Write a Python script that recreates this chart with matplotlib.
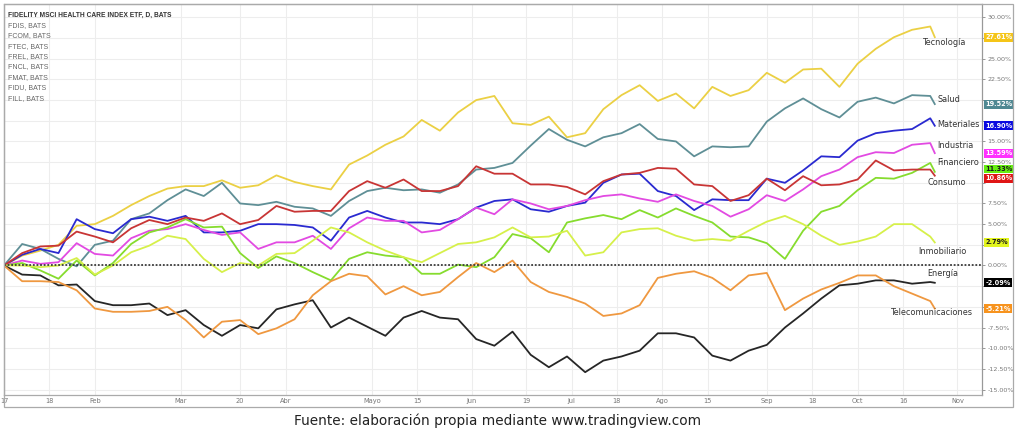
import matplotlib
matplotlib.use("Agg")
import matplotlib.pyplot as plt
import matplotlib.transforms as mtransforms
from matplotlib.patches import Rectangle
import numpy as np
import pandas as pd

# ---------------- data ----------------
holidays = ['2017-01-16', '2017-02-20', '2017-04-14', '2017-05-29',
            '2017-07-04', '2017-09-04', '2017-11-23']
trading_days = pd.bdate_range('2017-01-03', '2017-11-10', freq='C', holidays=holidays)

# sampled trading-day positions (every 4 sessions, last = Oct 25 2017)
sample_pos = list(range(0, 205, 4)) + [205]

tech = [0, 1.2, 1.8, 2.5, 4.8, 5.0, 6.0, 7.3, 8.4, 9.3, 9.6, 9.6, 10.3, 9.4, 9.7, 10.9, 10.1,
        9.6, 9.2, 12.2, 13.3, 14.6, 15.6, 17.6, 16.3, 18.5, 20.0, 20.5, 17.2, 17.0, 18.0, 15.5,
        16.0, 18.9, 20.6, 21.8, 19.9, 20.8, 19.0, 21.6, 20.5, 21.2, 23.3, 22.1, 23.7, 23.8, 21.6,
        24.4, 26.2, 27.6, 28.5, 28.9, 27.61]
salud = [0, 2.6, 2.0, 0.8, -0.1, 2.5, 3.0, 5.6, 6.3, 7.9, 9.2, 8.4, 10.0, 7.5, 7.3, 7.7, 7.1,
         6.9, 6.0, 7.8, 9.0, 9.4, 9.1, 9.2, 8.8, 9.8, 11.6, 11.8, 12.4, 14.5, 16.5, 15.2, 14.4,
         15.5, 16.0, 17.1, 15.3, 15.0, 13.2, 14.4, 14.3, 14.4, 17.4, 19.0, 20.2, 18.9, 17.9,
         19.8, 20.3, 19.6, 20.6, 20.5, 19.52]
materiales = [0, 1.3, 2.0, 1.5, 5.6, 4.4, 3.9, 5.6, 5.9, 5.4, 6.0, 4.0, 4.0, 4.2, 5.0, 5.0,
              4.9, 4.6, 3.0, 5.8, 6.6, 5.8, 5.2, 5.2, 5.0, 5.6, 7.0, 7.8, 8.0, 6.8, 6.5, 7.2,
              7.6, 10.0, 11.0, 11.1, 9.0, 8.4, 6.7, 8.0, 7.9, 7.9, 10.5, 10.0, 11.5, 13.2, 13.1,
              15.1, 16.0, 16.3, 16.5, 17.8, 16.90]
industria = [0, 0.6, 0.2, 0.4, 2.7, 1.4, 1.2, 3.3, 4.2, 4.4, 5.0, 4.3, 3.7, 4.0, 2.0, 2.8,
             2.8, 3.6, 2.0, 4.5, 5.8, 5.4, 5.4, 4.0, 4.3, 5.6, 7.0, 6.2, 8.0, 7.5, 6.8, 7.2,
             7.9, 8.4, 8.6, 8.1, 7.7, 8.6, 7.8, 7.2, 5.9, 6.8, 8.5, 7.8, 9.2, 10.8, 11.6, 13.1,
             13.7, 13.6, 14.6, 14.8, 13.59]
consumo = [0, 1.5, 2.3, 2.4, 4.1, 3.5, 2.8, 4.5, 5.5, 5.0, 5.8, 5.4, 6.3, 5.0, 5.5, 7.2, 6.5,
           6.6, 6.6, 9.0, 10.2, 9.4, 10.4, 9.0, 9.0, 9.6, 12.0, 11.1, 11.1, 9.8, 9.8, 9.5, 8.6,
           10.2, 11.0, 11.2, 11.8, 11.7, 9.8, 9.6, 7.8, 8.5, 10.5, 9.1, 10.8, 9.7, 9.8, 10.4,
           12.7, 11.5, 11.6, 11.6, 10.86]
financiero = [0, 0.3, -0.6, -1.6, 0.6, -1.2, 0.3, 2.6, 4.0, 4.6, 5.6, 4.6, 4.7, 1.5, -0.3,
              1.1, 0.3, -0.8, -1.8, 0.8, 1.6, 1.2, 1.0, -1.0, -1.0, 0.1, -0.2, 1.0, 3.8, 3.3,
              1.6, 5.2, 5.7, 6.1, 5.6, 6.7, 5.8, 6.9, 6.0, 5.2, 3.5, 3.4, 2.7, 0.8, 4.2, 6.5,
              7.2, 9.1, 10.6, 10.5, 11.2, 12.4, 11.33]
inmobiliario = [0, 0.0, -0.2, 0.0, 0.9, -1.1, 0.0, 1.6, 2.4, 3.6, 3.2, 0.8, -0.8, 0.3, 0.0,
                1.4, 1.5, 3.0, 4.6, 4.0, 2.8, 1.8, 1.0, 0.4, 1.5, 2.6, 2.8, 3.4, 4.6, 3.4, 3.5,
                4.2, 1.2, 1.6, 4.0, 4.4, 4.5, 3.6, 3.0, 3.2, 3.0, 4.2, 5.3, 6.0, 5.0, 3.6, 2.5,
                2.9, 3.5, 5.0, 5.0, 3.5, 2.79]
energia = [0, -1.1, -1.2, -2.4, -2.3, -4.3, -4.8, -4.8, -4.6, -6.0, -5.4, -7.2, -8.5, -7.2,
           -7.6, -5.3, -4.7, -4.2, -7.5, -6.3, -7.4, -8.5, -6.3, -5.5, -6.3, -6.5, -8.9, -9.7,
           -8.0, -10.8, -12.3, -11.0, -12.9, -11.5, -11.0, -10.3, -8.2, -8.2, -8.7, -10.9,
           -11.5, -10.3, -9.6, -7.5, -5.8, -4.0, -2.4, -2.2, -1.8, -1.8, -2.2, -2.0, -2.09]
telecom = [0, -1.9, -1.9, -2.0, -3.0, -5.2, -5.6, -5.6, -5.5, -5.0, -6.6, -8.7, -6.8, -6.6,
           -8.3, -7.6, -6.5, -3.6, -1.9, -1.0, -1.3, -3.5, -2.5, -3.6, -3.2, -1.4, 0.3, -0.8,
           0.6, -2.0, -3.2, -3.8, -4.6, -6.1, -5.8, -4.8, -1.5, -1.0, -0.7, -1.5, -3.0, -1.2,
           -0.9, -5.4, -4.0, -2.9, -2.1, -1.2, -1.2, -2.5, -3.4, -4.3, -5.21]

names = ['Tecnología', 'Salud', 'Materiales', 'Industria', 'Financiero', 'Consumo',
         'Inmobiliario', 'Energía', 'Telecomunicaciones']
series = [tech, salud, materiales, industria, financiero, consumo, inmobiliario, energia, telecom]
line_colors = ['#ebd044', '#5f8f96', '#2a2ad0', '#e24ae2', '#86dc2e', '#c83535',
               '#d6f04a', '#262626', '#ef9840']
box_colors = ['#f5c518', '#4f8892', '#0a0ae0', '#ff30ff', '#66ee10', '#e01515',
              '#e2f51e', '#000000', '#f7931e']
box_text = ['#ffffff', '#ffffff', '#ffffff', '#ffffff', '#1a1a1a', '#ffffff',
            '#1a1a1a', '#ffffff', '#ffffff']
# label anchor (trading-day position, value)
label_pos = [(202.4, 27.0), (205.5, 20.1), (205.5, 17.1), (205.5, 14.45), (205.5, 12.4),
             (203.3, 10.0), (201.3, 1.75), (203.3, -1.0), (195.4, -5.7)]

tick_dates = ['2017-01-03', '2017-01-18', '2017-02-01', '2017-03-01', '2017-03-20',
              '2017-04-03', '2017-05-01', '2017-05-15', '2017-06-01', '2017-06-19',
              '2017-07-03', '2017-07-18', '2017-08-01', '2017-08-15', '2017-09-01',
              '2017-09-18', '2017-10-02', '2017-10-16', '2017-11-01']
tick_labels = ['17', '18', 'Feb', 'Mar', '20', 'Abr', 'Mayo', '15', 'Jun', '19', 'Jul',
               '18', 'Ago', '15', 'Sep', '18', 'Oct', '16', 'Nov']

legend_lines = ['FIDELITY MSCI HEALTH CARE INDEX ETF, D, BATS', 'FDIS, BATS', 'FCOM, BATS',
                'FTEC, BATS', 'FREL, BATS', 'FNCL, BATS', 'FMAT, BATS', 'FIDU, BATS',
                'FILL, BATS']

# ---------------- figure ----------------
W, H = 1024, 436
fig = plt.figure(figsize=(W / 100, H / 100), dpi=100)
fig.patch.set_facecolor('white')
ax = fig.add_axes([4 / W, 1 - 395 / H, 978 / W, 391 / H])
ax.set_facecolor('white')

tick_pos = [trading_days.get_loc(pd.Timestamp(d)) for d in tick_dates]

for s, c in zip(series, line_colors):
    ax.plot(sample_pos, s, color=c, lw=1.3, solid_joinstyle='round', zorder=3)

ax.axhline(0, color='#3a3a3a', lw=1.3, ls=(0, (1.0, 1.0)), zorder=4)

ax.set_xlim(0, 215.4)
ax.set_ylim(-15.66, 31.62)

ax.set_xticks(tick_pos)
ax.set_xticklabels(tick_labels)

# price scale on the right; labels hidden where a last-value box covers them
last_vals = [s[-1] for s in series]
yticks = np.arange(-15, 30.01, 2.5)
ylabels = ['' if min(abs(t - v) for v in last_vals) < 0.95 else f'{t:.2f}%' for t in yticks]
ax.yaxis.tick_right()
ax.set_yticks(yticks)
ax.set_yticklabels(ylabels)
ax.tick_params(axis='x', length=0, pad=2.0, labelsize=4.8, labelcolor='#777777')
ax.tick_params(axis='y', length=2.5, width=0.6, color='#888888', pad=1.5,
               labelsize=4.6, labelcolor='#777777')
ax.grid(True, color='#ededed', lw=0.8, zorder=0)
ax.set_axisbelow(True)
for side in ['left', 'top', 'bottom']:
    ax.spines[side].set_color('#aaaaaa')
    ax.spines[side].set_linewidth(0.9)
ax.spines['right'].set_color('#999999')
ax.spines['right'].set_linewidth(0.9)

# end-of-line labels
for name, (lx, ly) in zip(names, label_pos):
    ax.text(lx, ly, name, fontsize=5.9, color='#333333', ha='left', va='center',
            family='DejaVu Sans', zorder=6, clip_on=False)

# last-value boxes on the price scale, pushed apart when they collide
trans = mtransforms.blended_transform_factory(ax.transAxes, ax.transData)
px = [ax.transData.transform((0, v))[1] for v in last_vals]   # display y (up)
order = sorted(range(len(px)), key=lambda i: px[i])
pos = [px[i] for i in order]
min_sep = 9.5
for _ in range(50):
    for j in range(1, len(pos)):
        gap = pos[j] - pos[j - 1]
        if gap < min_sep:
            d = (min_sep - gap) / 2
            pos[j] += d
            pos[j - 1] -= d
shift = {order[j]: pos[j] - px[order[j]] for j in range(len(pos))}
for i, (v, bc, tc) in enumerate(zip(last_vals, box_colors, box_text)):
    ax.annotate(f'{v:.2f}%', xy=(1.0035, v), xycoords=trans,
                xytext=(0, shift[i] * 72 / fig.dpi), textcoords='offset points',
                fontsize=4.7, fontweight='bold', color=tc, ha='left', va='center',
                annotation_clip=False, zorder=10,
                bbox=dict(boxstyle='square,pad=0.22', fc=bc, ec='none'))

# legend / title block
for k, t in enumerate(legend_lines):
    fig.text(8 / W, 1 - (15 + k * 10.4) / H, t, fontsize=5.0 if k else 4.8,
             fontweight='bold' if k == 0 else 'normal',
             color='#333333' if k == 0 else '#666666',
             family=['Liberation Sans', 'DejaVu Sans'], ha='left', va='center')

# outer frame
fig.patches.append(Rectangle((4 / W, 1 - 407 / H), 1009 / W, 403 / H,
                             transform=fig.transFigure, fill=False, ec='#aaaaaa', lw=0.9))

fig.text(498 / W, 1 - 421 / H, 'Fuente: elaboración propia mediante www.tradingview.com',
         ha='center', va='center', fontsize=9.8, color='#222222', family='DejaVu Sans')

fig.savefig('out.png', dpi=100, facecolor='white')
